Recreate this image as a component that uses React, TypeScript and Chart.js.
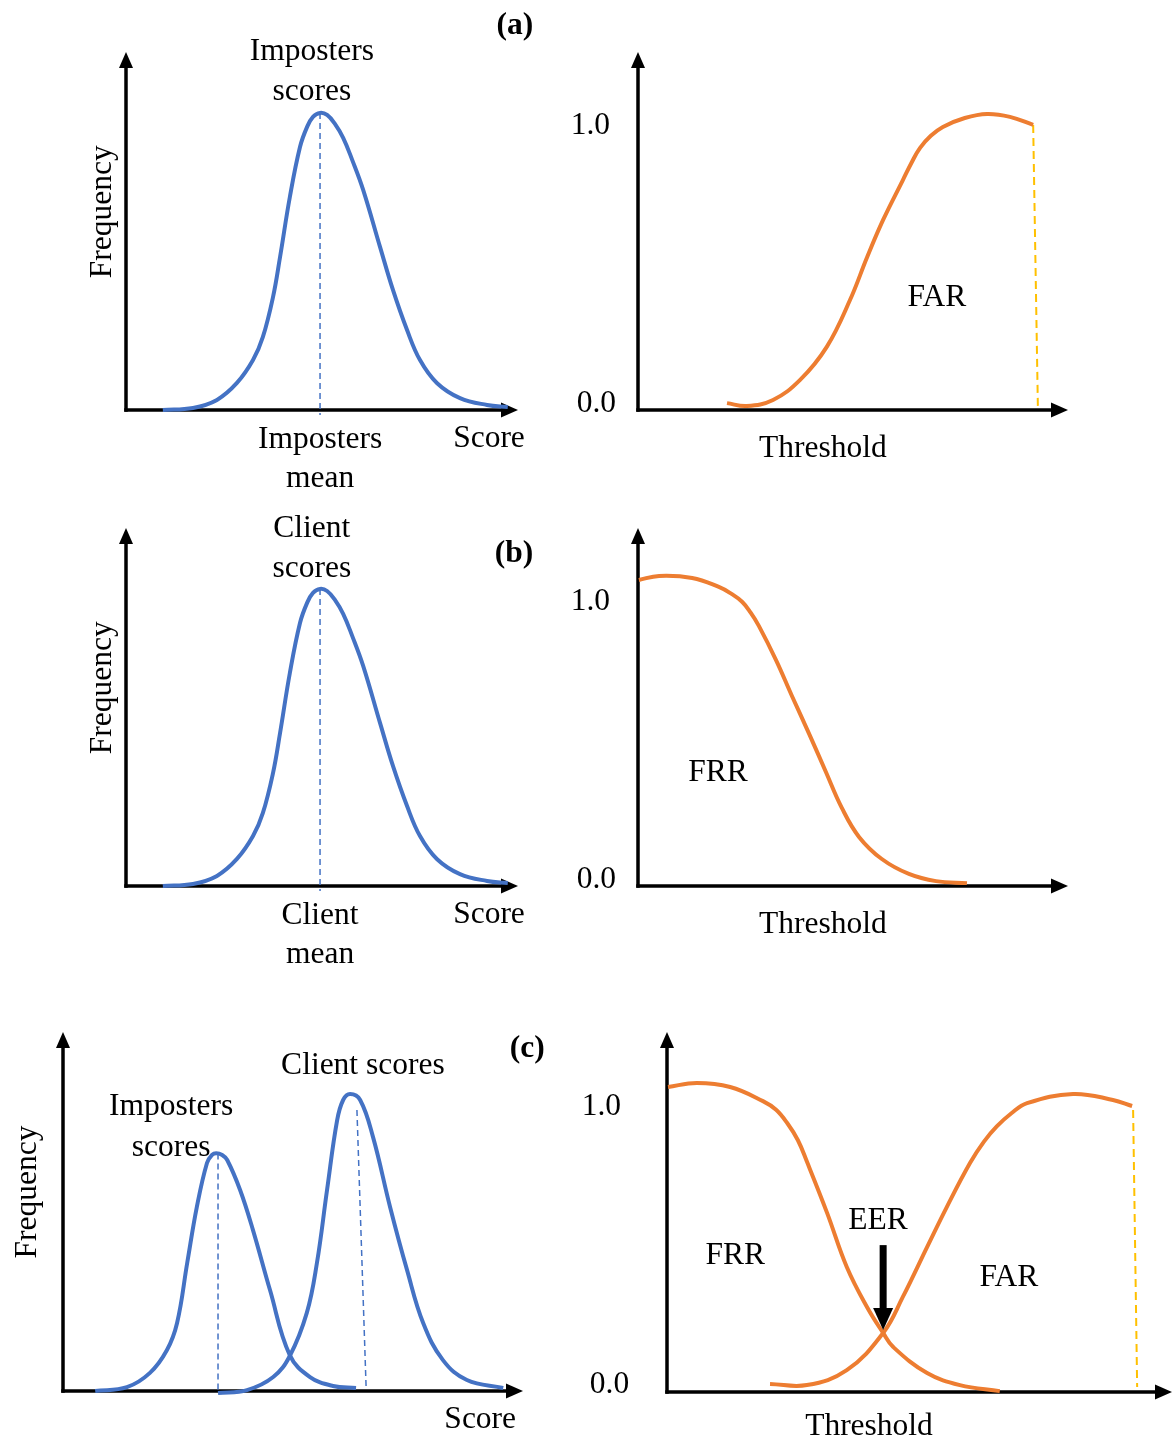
import React, { useEffect, useRef } from 'react';
import { Chart, registerables } from 'chart.js';

Chart.register(...registerables);

const W = 1176;
const H = 1440;
const FONT = '"Liberation Serif", "Times New Roman", Times, serif';
const BLUE = '#4472C4';
const ORANGE = '#ED7D31';
const GOLD = '#FFC000';

// ---------- (a) imposters score distribution ----------
const aScore = [9.4, 17.1, 23.2, 28.3, 32.4, 34.9, 37.5, 39.3, 41.8, 44.4, 46.2, 47.7, 49.5, 51.3, 53.3, 55.4, 57.7, 60.5, 64.8, 68.1, 71.7, 75.0, 79.3, 85.2, 92.1, 97.4];
const aImpFreq = [0, 0.007, 0.034, 0.091, 0.168, 0.245, 0.38, 0.515, 0.717, 0.886, 0.953, 0.987, 1.0, 0.993, 0.963, 0.916, 0.842, 0.741, 0.549, 0.404, 0.269, 0.168, 0.091, 0.04, 0.017, 0.01];
const aImpMean = 49.5;

// ---------- (a) FAR vs threshold ----------
const aThr = [20.7, 25.3, 31.4, 37.7, 43.9, 49.3, 53.3, 57.0, 61.6, 63.7, 65.6, 68.1, 70.9, 76.0, 81.2, 86.5, 91.9];
const aFar = [0.024, 0.014, 0.035, 0.105, 0.22, 0.383, 0.533, 0.662, 0.801, 0.864, 0.913, 0.955, 0.986, 1.017, 1.031, 1.021, 0.993];
const aFarEnd = [91.9, 93.0];

// ---------- (b) client score distribution ----------
const bScore = [9.4, 17.1, 23.2, 28.3, 32.4, 34.9, 37.5, 39.3, 41.8, 44.4, 46.2, 47.7, 49.5, 51.3, 53.3, 55.4, 57.7, 60.5, 64.8, 68.1, 71.7, 75.0, 79.3, 85.2, 92.1, 97.4];
const bCliFreq = [0, 0.007, 0.034, 0.091, 0.168, 0.245, 0.38, 0.515, 0.717, 0.886, 0.953, 0.987, 1.0, 0.993, 0.963, 0.916, 0.842, 0.741, 0.549, 0.404, 0.269, 0.168, 0.091, 0.04, 0.017, 0.01];
const bCliMean = 49.5;

// ---------- (b) FRR vs threshold ----------
const bThr = [0.2, 4.9, 12.6, 18.8, 21.5, 24.2, 26.2, 28.1, 32.1, 35.8, 39.8, 43.7, 47.4, 51.4, 56.7, 63.0, 69.3, 76.5];
const bFrr = [1.066, 1.08, 1.073, 1.042, 1.02, 0.99, 0.952, 0.906, 0.787, 0.662, 0.53, 0.397, 0.272, 0.171, 0.094, 0.042, 0.017, 0.01];

// ---------- (c) both distributions ----------
const cImpScore = [7.0, 13.9, 18.9, 22.6, 24.8, 27.0, 29.1, 31.3, 32.4, 33.3, 34.6, 35.7, 38.5, 41.3, 45.0, 49.3, 53.7, 58.7, 63.7];
const cImpFreq = [0, 0.013, 0.061, 0.138, 0.229, 0.431, 0.62, 0.768, 0.795, 0.801, 0.795, 0.778, 0.677, 0.542, 0.34, 0.121, 0.047, 0.017, 0.01];
const cImpMean = 33.7;
const cCliScore = [33.7, 40.0, 45.7, 49.3, 53.0, 55.2, 57.4, 59.6, 60.9, 62.4, 64.6, 67.4, 71.1, 74.8, 78.3, 82.6, 87.8, 95.7];
const cCliFreq = [-0.007, 0.003, 0.047, 0.118, 0.263, 0.431, 0.677, 0.912, 0.98, 1.0, 0.98, 0.855, 0.62, 0.407, 0.229, 0.104, 0.037, 0.01];
const cCliMean = [63.9, 65.9];

// ---------- (c) FRR & FAR vs threshold ----------
const cFrrThr = [0.2, 5.9, 12.5, 19.0, 21.6, 23.8, 25.9, 27.7, 31.7, 35.6, 39.6, 42.8, 44.8, 51.5, 58.0, 65.9];
const cFrr = [1.059, 1.073, 1.059, 1.01, 0.98, 0.934, 0.875, 0.8, 0.622, 0.434, 0.295, 0.205, 0.156, 0.066, 0.024, 0.003];
const cFarThr = [20.4, 27.7, 35.6, 42.8, 46.7, 51.5, 55.4, 60.0, 62.8, 65.3, 68.2, 71.3, 80.4, 88.3, 92.1];
const cFar = [0.028, 0.024, 0.076, 0.205, 0.33, 0.503, 0.642, 0.795, 0.87, 0.922, 0.968, 1.003, 1.035, 1.014, 0.993];
const cFarEnd = [92.3, 93.1];
const cEer = { thr: 42.8, rate: 0.205 };

const yTickText = ['0.0', '1.0'];
const yTickVal = [0, 1];

type Label = { text: string; x: number; y: number; align?: CanvasTextAlign; bold?: boolean; rotate?: boolean };
type PanelCfg = {
  area: { left: number; top: number; right: number; bottom: number };
  xMax: number;
  yMax: number;
  datasets: any[];
  labels: Label[];
  arrow?: { x: number; yFrom: number; yTo: number };
};

const pts = (xs: number[], ys: number[]) => xs.map((x, i) => ({ x, y: ys[i] }));

const curve = (xs: number[], ys: number[], color: string) => ({
  data: pts(xs, ys),
  borderColor: color,
  borderWidth: 4,
  pointRadius: 0,
  tension: 0.4,
  borderJoinStyle: 'round',
  fill: false,
  clip: false,
});

const dashed = (x0: number, y0: number, x1: number, y1: number, color: string, width: number, dash: number[]) => ({
  data: [
    { x: x0, y: y0 },
    { x: x1, y: y1 },
  ],
  borderColor: color,
  borderWidth: width,
  borderDash: dash,
  pointRadius: 0,
  tension: 0,
  fill: false,
  clip: false,
});

const tickLabels = (xs: number[], y0Offset: number): Label[] =>
  yTickText.map((t, i) => ({ text: t, x: xs[i], y: yTickVal[i] + (i === 0 ? y0Offset : 0), align: 'right' }));

const panels: PanelCfg[] = [
  {
    area: { left: 126, top: 52, right: 518, bottom: 410 },
    xMax: 100,
    yMax: 1.205,
    datasets: [
      curve(aScore, aImpFreq, BLUE),
      dashed(aImpMean, 1.0, aImpMean, -0.017, BLUE, 1.5, [6, 4]),
    ],
    labels: [
      { text: 'Imposters', x: 47.4, y: 1.215 },
      { text: 'scores', x: 47.4, y: 1.081 },
      { text: '(a)', x: 99.2, y: 1.3, bold: true },
      { text: 'Frequency', x: -6.6, y: 0.667, rotate: true },
      { text: 'Imposters', x: 49.5, y: -0.091 },
      { text: 'mean', x: 49.5, y: -0.222 },
      { text: 'Score', x: 92.6, y: -0.088 },
    ],
  },
  {
    area: { left: 638, top: 52, right: 1068, bottom: 410 },
    xMax: 100,
    yMax: 1.247,
    datasets: [
      curve(aThr, aFar, ORANGE),
      dashed(aFarEnd[0], 0.993, aFarEnd[1], 0.007, GOLD, 2, [8, 5]),
    ],
    labels: [
      ...tickLabels([-5.1, -6.5], 0.031),
      { text: 'FAR', x: 69.5, y: 0.401 },
      { text: 'Threshold', x: 43.0, y: -0.125 },
    ],
  },
  {
    area: { left: 126, top: 528, right: 518, bottom: 886 },
    xMax: 100,
    yMax: 1.205,
    datasets: [
      curve(bScore, bCliFreq, BLUE),
      dashed(bCliMean, 1.0, bCliMean, -0.017, BLUE, 1.5, [6, 4]),
    ],
    labels: [
      { text: 'Client', x: 47.4, y: 1.212 },
      { text: 'scores', x: 47.4, y: 1.077 },
      { text: '(b)', x: 99.0, y: 1.128, bold: true },
      { text: 'Frequency', x: -6.6, y: 0.667, rotate: true },
      { text: 'Client', x: 49.5, y: -0.091 },
      { text: 'mean', x: 49.5, y: -0.222 },
      { text: 'Score', x: 92.6, y: -0.088 },
    ],
  },
  {
    area: { left: 638, top: 528, right: 1068, bottom: 886 },
    xMax: 100,
    yMax: 1.247,
    datasets: [curve(bThr, bFrr, ORANGE)],
    labels: [
      ...tickLabels([-5.1, -6.5], 0.031),
      { text: 'FRR', x: 18.6, y: 0.404 },
      { text: 'Threshold', x: 43.0, y: -0.125 },
    ],
  },
  {
    area: { left: 63, top: 1032, right: 523, bottom: 1391 },
    xMax: 100,
    yMax: 1.209,
    datasets: [
      curve(cImpScore, cImpFreq, BLUE),
      curve(cCliScore, cCliFreq, BLUE),
      dashed(cImpMean, 0.8, cImpMean, 0, BLUE, 1.5, [6, 4]),
      dashed(cCliMean[0], 0.946, cCliMean[1], 0.01, BLUE, 1.5, [6, 4]),
    ],
    labels: [
      { text: 'Frequency', x: -8.3, y: 0.67, rotate: true },
      { text: 'Imposters', x: 23.5, y: 0.966 },
      { text: 'scores', x: 23.5, y: 0.828 },
      { text: 'Client scores', x: 65.2, y: 1.104 },
      { text: '(c)', x: 100.9, y: 1.162, bold: true },
      { text: 'Score', x: 90.7, y: -0.088 },
    ],
  },
  {
    area: { left: 667, top: 1032, right: 1172, bottom: 1392 },
    xMax: 100,
    yMax: 1.25,
    datasets: [
      curve(cFrrThr, cFrr, ORANGE),
      curve(cFarThr, cFar, ORANGE),
      dashed(cFarEnd[0], 0.979, cFarEnd[1], 0.017, GOLD, 2, [8, 5]),
    ],
    labels: [
      ...tickLabels([-7.5, -9.1], 0.035),
      { text: 'FRR', x: 13.5, y: 0.483 },
      { text: 'EER', x: 41.8, y: 0.604 },
      { text: 'FAR', x: 67.7, y: 0.406 },
      { text: 'Threshold', x: 40.0, y: -0.111 },
    ],
    arrow: { x: cEer.thr, yFrom: 0.51, yTo: cEer.rate + 0.01 },
  },
];

const TEXT_DY = 2.5;

function makePlugin(cfg: PanelCfg) {
  return {
    id: 'diagram',
    beforeDatasetsDraw(chart: any) {
      const { ctx } = chart;
      const xs = chart.scales.x;
      const ys = chart.scales.y;
      const x0 = xs.getPixelForValue(0);
      const y0 = ys.getPixelForValue(0);
      const x1 = xs.getPixelForValue(xs.max);
      const y1 = ys.getPixelForValue(ys.max);
      ctx.save();
      ctx.strokeStyle = '#000';
      ctx.fillStyle = '#000';
      ctx.lineWidth = 3.5;
      ctx.lineCap = 'butt';
      ctx.beginPath();
      ctx.moveTo(x0 - 1.75, y0);
      ctx.lineTo(x1 - 14, y0);
      ctx.stroke();
      ctx.beginPath();
      ctx.moveTo(x1, y0);
      ctx.lineTo(x1 - 17, y0 - 7.5);
      ctx.lineTo(x1 - 17, y0 + 7.5);
      ctx.closePath();
      ctx.fill();
      ctx.beginPath();
      ctx.moveTo(x0, y0 + 1.75);
      ctx.lineTo(x0, y1 + 14);
      ctx.stroke();
      ctx.beginPath();
      ctx.moveTo(x0, y1);
      ctx.lineTo(x0 - 7, y1 + 16);
      ctx.lineTo(x0 + 7, y1 + 16);
      ctx.closePath();
      ctx.fill();
      ctx.restore();
    },
    afterDatasetsDraw(chart: any) {
      const { ctx } = chart;
      const xs = chart.scales.x;
      const ys = chart.scales.y;
      ctx.save();
      ctx.fillStyle = '#000';
      ctx.textBaseline = 'middle';
      for (const l of cfg.labels) {
        const px = xs.getPixelForValue(l.x);
        const py = ys.getPixelForValue(l.y);
        ctx.font = `${l.bold ? 'bold ' : ''}31.5px ${FONT}`;
        if (l.rotate) {
          ctx.save();
          ctx.translate(px + TEXT_DY, py);
          ctx.rotate(-Math.PI / 2);
          ctx.textAlign = 'center';
          ctx.fillText(l.text, 0, 0);
          ctx.restore();
        } else {
          ctx.textAlign = l.align || 'center';
          ctx.fillText(l.text, px, py + TEXT_DY);
        }
      }
      if (cfg.arrow) {
        const ax = xs.getPixelForValue(cfg.arrow.x);
        const ayTop = ys.getPixelForValue(cfg.arrow.yFrom);
        const ayTip = ys.getPixelForValue(cfg.arrow.yTo);
        const headH = 22;
        ctx.fillRect(ax - 3.5, ayTop, 7, ayTip - headH - ayTop + 1);
        ctx.beginPath();
        ctx.moveTo(ax, ayTip);
        ctx.lineTo(ax - 10, ayTip - headH);
        ctx.lineTo(ax + 10, ayTip - headH);
        ctx.closePath();
        ctx.fill();
      }
      ctx.restore();
    },
  };
}

function Panel({ cfg }: { cfg: PanelCfg }) {
  const ref = useRef<HTMLCanvasElement | null>(null);
  useEffect(() => {
    if (!ref.current) return;
    const chart = new Chart(ref.current, {
      type: 'line',
      data: { datasets: cfg.datasets },
      options: {
        animation: false,
        responsive: false,
        devicePixelRatio: 1,
        events: [],
        layout: {
          padding: {
            left: cfg.area.left,
            top: cfg.area.top,
            right: W - cfg.area.right,
            bottom: H - cfg.area.bottom,
          },
        },
        scales: {
          x: { type: 'linear', min: 0, max: cfg.xMax, display: false },
          y: { type: 'linear', min: 0, max: cfg.yMax, display: false },
        },
        plugins: {
          legend: { display: false },
          tooltip: { enabled: false },
          title: { display: false },
        },
      } as any,
      plugins: [makePlugin(cfg)],
    });
    return () => chart.destroy();
  }, [cfg]);
  return (
    <canvas
      ref={ref}
      width={W}
      height={H}
      style={{ position: 'absolute', left: 0, top: 0, width: W, height: H }}
    />
  );
}

export default function App() {
  return (
    <div style={{ position: 'absolute', left: 0, top: 0, width: W, height: H, background: '#fff' }}>
      {panels.map((p, i) => (
        <Panel key={i} cfg={p} />
      ))}
    </div>
  );
}
